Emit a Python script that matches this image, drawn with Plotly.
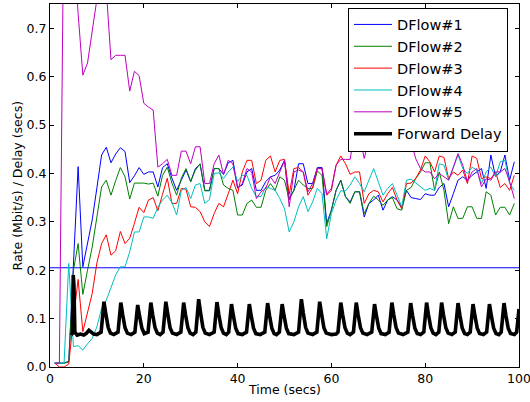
import plotly.graph_objects as go

# ---------------- data ----------------
time_s = list(range(1, 100))

dflow1 = [0.008, 0.008, 0.008, 0.012, 0.21, 0.414, 0.207, 0.255, 0.304, 0.37,
          0.438, 0.454, 0.422, 0.44, 0.453, 0.445, 0.381, 0.395, 0.412, 0.398,
          0.403, 0.403, 0.372, 0.412, 0.42, 0.39, 0.365, 0.386, 0.407, 0.383,
          0.41, 0.419, 0.365, 0.365, 0.41, 0.41, 0.398, 0.422, 0.427, 0.371,
          0.376, 0.403, 0.41, 0.365, 0.365, 0.383, 0.393, 0.396, 0.407, 0.427,
          0.348, 0.365, 0.42, 0.42, 0.379, 0.379, 0.412, 0.412, 0.297, 0.324,
          0.365, 0.386, 0.352, 0.341, 0.362, 0.362, 0.31, 0.338, 0.345, 0.355,
          0.324, 0.345, 0.352, 0.345, 0.33, 0.365, 0.35, 0.348, 0.346, 0.358,
          0.355, 0.355, 0.371, 0.379, 0.331, 0.358, 0.386, 0.393, 0.386, 0.396,
          0.403, 0.41, 0.369, 0.438, 0.393, 0.403, 0.438, 0.386, 0.424]

dflow2 = [0.008, 0.008, 0.008, 0.01, 0.2, 0.255, 0.15, 0.2, 0.248, 0.31,
          0.372, 0.386, 0.355, 0.385, 0.412, 0.393, 0.347, 0.38, 0.38, 0.38,
          0.378, 0.38, 0.353, 0.396, 0.413, 0.38, 0.355, 0.39, 0.41, 0.383,
          0.407, 0.42, 0.364, 0.364, 0.41, 0.41, 0.376, 0.369, 0.365, 0.314,
          0.314, 0.338, 0.345, 0.33, 0.33, 0.365, 0.379, 0.365, 0.393, 0.386,
          0.345, 0.365, 0.386, 0.376, 0.369, 0.369, 0.405, 0.396, 0.29, 0.324,
          0.365, 0.386, 0.352, 0.338, 0.362, 0.362, 0.317, 0.338, 0.353, 0.345,
          0.334, 0.345, 0.35, 0.327, 0.324, 0.365, 0.371, 0.39, 0.403, 0.422,
          0.422, 0.365, 0.403, 0.365, 0.296, 0.331, 0.307, 0.307, 0.331, 0.331,
          0.307, 0.307, 0.362, 0.355, 0.314, 0.33, 0.33, 0.314, 0.338]

dflow3 = [0.008, 0.0, 0.0, 0.006, 0.1, 0.181, 0.073, 0.11, 0.152, 0.215,
          0.255, 0.273, 0.231, 0.24, 0.28, 0.255, 0.266, 0.297, 0.33, 0.319,
          0.345, 0.35, 0.323, 0.357, 0.39, 0.338, 0.338, 0.369, 0.367, 0.331,
          0.33, 0.321, 0.3, 0.29, 0.317, 0.338, 0.331, 0.358, 0.386, 0.358,
          0.403, 0.427, 0.427, 0.379, 0.386, 0.427, 0.436, 0.403, 0.427, 0.429,
          0.357, 0.41, 0.412, 0.403, 0.355, 0.371, 0.41, 0.41, 0.355, 0.365,
          0.417, 0.436, 0.42, 0.398, 0.403, 0.403, 0.338, 0.358, 0.365, 0.362,
          0.341, 0.358, 0.371, 0.345, 0.327, 0.379, 0.38, 0.39, 0.407, 0.436,
          0.424, 0.403, 0.436, 0.433, 0.389, 0.403, 0.396, 0.407, 0.379, 0.436,
          0.431, 0.389, 0.393, 0.389, 0.403, 0.371, 0.379, 0.365, 0.396]

dflow4 = [0.008, 0.008, 0.008, 0.214, 0.042, 0.044, 0.035, 0.048, 0.059, 0.083,
          0.121, 0.138, 0.162, 0.19, 0.207, 0.207, 0.238, 0.279, 0.279, 0.31,
          0.31, 0.307, 0.33, 0.345, 0.355, 0.34, 0.314, 0.365, 0.371, 0.348,
          0.376, 0.379, 0.338, 0.346, 0.4, 0.401, 0.389, 0.403, 0.413, 0.383,
          0.396, 0.396, 0.369, 0.352, 0.352, 0.372, 0.369, 0.365, 0.348, 0.327,
          0.279, 0.3, 0.331, 0.352, 0.321, 0.341, 0.369, 0.358, 0.265, 0.317,
          0.345, 0.364, 0.364, 0.376, 0.393, 0.379, 0.362, 0.386, 0.41, 0.383,
          0.355, 0.369, 0.379, 0.355, 0.331, 0.386, 0.388, 0.38, 0.372, 0.365,
          0.369, 0.365, 0.42, 0.417, 0.386, 0.413, 0.438, 0.41, 0.4, 0.413,
          0.407, 0.379, 0.403, 0.413, 0.393, 0.424, 0.427, 0.379, 0.365]

dflow5 = [0.008, 0.008, 1.0, 0.95, 0.88, 0.73, 0.603, 0.628, 0.69, 0.76,
          0.8, 0.78, 0.635, 0.644, 0.644, 0.644, 0.57, 0.611, 0.602, 0.545,
          0.537, 0.531, 0.413, 0.42, 0.429, 0.396, 0.396, 0.446, 0.446, 0.42,
          0.455, 0.455, 0.379, 0.379, 0.42, 0.438, 0.398, 0.427, 0.42, 0.369,
          0.379, 0.41, 0.403, 0.348, 0.362, 0.369, 0.393, 0.379, 0.403, 0.427,
          0.331, 0.403, 0.407, 0.403, 0.362, 0.379, 0.41, 0.41, 0.357, 0.369,
          0.417, 0.429, 0.429, 0.429, 0.49, 0.48, 0.431, 0.47, 0.5, 0.48,
          0.5, 0.49, 0.47, 0.448, 0.455, 0.46, 0.465, 0.43, 0.41, 0.403,
          0.403, 0.389, 0.4, 0.393, 0.386, 0.413, 0.441, 0.417, 0.383, 0.403,
          0.41, 0.372, 0.389, 0.386, 0.403, 0.403, 0.41, 0.383, 0.348]

link_rate_t = [0, 100]
link_rate = [0.205, 0.205]

delay_points = [
    (4.5, 0.066), (4.8, 0.07), (4.95, 0.19), (5.1, 0.17), (5.3, 0.072), (5.8, 0.066),
    (6.5, 0.068), (7.2, 0.066), (7.8, 0.07), (8.3, 0.076), (8.8, 0.072), (9.3, 0.068),
    (10.0, 0.067), (10.6, 0.07),
    (10.9, 0.072), (11.25, 0.108), (11.5, 0.135), (11.9, 0.11), (12.4, 0.082), (12.9, 0.07), (13.6, 0.067),
    (14.5, 0.072), (14.85, 0.107), (15.1, 0.133), (15.5, 0.108), (16.0, 0.081), (16.5, 0.07), (17.3, 0.067),
    (18.1, 0.072), (18.45, 0.105), (18.7, 0.128), (19.1, 0.105), (19.6, 0.08), (20.1, 0.069),
    (20.9, 0.072), (21.25, 0.107), (21.5, 0.133), (21.9, 0.108), (22.4, 0.081), (22.9, 0.07), (23.5, 0.067),
    (24.1, 0.072), (24.45, 0.108), (24.7, 0.135), (25.1, 0.11), (25.6, 0.081), (26.1, 0.07), (27.0, 0.067),
    (27.9, 0.072), (28.25, 0.107), (28.5, 0.133), (28.9, 0.108), (29.4, 0.081), (29.9, 0.07), (30.5, 0.067),
    (31.1, 0.072), (31.45, 0.11), (31.7, 0.14), (32.1, 0.112), (32.6, 0.082), (33.1, 0.07), (34.0, 0.067),
    (35.0, 0.072), (35.35, 0.107), (35.6, 0.134), (36.0, 0.108), (36.5, 0.081), (37.0, 0.07), (37.6, 0.067),
    (38.1, 0.072), (38.45, 0.106), (38.7, 0.13), (39.1, 0.106), (39.6, 0.08), (40.1, 0.069), (41.0, 0.067),
    (41.9, 0.072), (42.25, 0.106), (42.5, 0.13), (42.9, 0.106), (43.4, 0.08), (43.9, 0.069), (44.8, 0.067),
    (45.8, 0.072), (46.15, 0.106), (46.4, 0.132), (46.8, 0.107), (47.3, 0.08), (47.8, 0.069), (48.3, 0.067),
    (48.9, 0.072), (49.25, 0.106), (49.5, 0.13), (49.9, 0.106), (50.4, 0.08), (50.9, 0.069), (52.0, 0.067),
    (53.0, 0.072), (53.35, 0.11), (53.6, 0.14), (54.0, 0.112), (54.5, 0.082), (55.0, 0.07), (56.0, 0.067),
    (56.9, 0.072), (57.25, 0.108), (57.5, 0.135), (57.9, 0.11), (58.4, 0.081), (58.9, 0.07), (60.0, 0.067), (61.0, 0.068),
    (61.4, 0.072), (61.75, 0.107), (62.0, 0.133), (62.4, 0.108), (62.9, 0.081), (63.4, 0.07), (64.0, 0.067),
    (64.7, 0.072), (65.05, 0.107), (65.3, 0.133), (65.7, 0.108), (66.2, 0.081), (66.7, 0.07), (67.6, 0.067),
    (68.6, 0.072), (68.95, 0.106), (69.2, 0.13), (69.6, 0.106), (70.1, 0.08), (70.6, 0.069), (71.5, 0.067),
    (72.3, 0.072), (72.65, 0.107), (72.9, 0.133), (73.3, 0.108), (73.8, 0.081), (74.3, 0.07), (75.3, 0.067),
    (76.3, 0.072), (76.65, 0.106), (76.9, 0.132), (77.3, 0.107), (77.8, 0.08), (78.3, 0.069), (79.0, 0.067),
    (79.7, 0.072), (80.05, 0.107), (80.3, 0.133), (80.7, 0.108), (81.2, 0.081), (81.7, 0.07), (82.3, 0.067),
    (82.9, 0.072), (83.25, 0.107), (83.5, 0.133), (83.9, 0.108), (84.4, 0.081), (84.9, 0.07), (85.7, 0.067),
    (86.4, 0.072), (86.75, 0.106), (87.0, 0.132), (87.4, 0.107), (87.9, 0.08), (88.4, 0.069), (89.0, 0.067),
    (89.6, 0.072), (89.95, 0.106), (90.2, 0.13), (90.6, 0.106), (91.1, 0.08), (91.6, 0.069), (92.4, 0.067),
    (93.1, 0.072), (93.45, 0.106), (93.7, 0.13), (94.1, 0.106), (94.6, 0.08), (95.1, 0.069), (95.7, 0.067),
    (96.2, 0.072), (96.55, 0.106), (96.8, 0.132), (97.2, 0.107), (97.7, 0.08), (98.2, 0.069), (99.0, 0.067),
    (99.5, 0.072), (99.8, 0.1), (100.0, 0.12),
]
delay_t = [p[0] for p in delay_points]
delay_v = [p[1] for p in delay_points]

x_ticks = [0, 20, 40, 60, 80, 100]
y_ticks = [0.0, 0.1, 0.2, 0.3, 0.4, 0.5, 0.6, 0.7]
y_tick_labels = ["0.0", "0.1", "0.2", "0.3", "0.4", "0.5", "0.6", "0.7"]

# ---------------- figure ----------------
FONT = "DejaVu Sans"
fig = go.Figure()

fig.add_trace(go.Scatter(x=link_rate_t, y=link_rate, mode="lines",
                         line=dict(color="#0000ff", width=1), showlegend=False,
                         hoverinfo="skip"))

series = [("DFlow#1", dflow1, "#0000ff"), ("DFlow#2", dflow2, "#008000"),
          ("DFlow#3", dflow3, "#ff0000"), ("DFlow#4", dflow4, "#00bfbf"),
          ("DFlow#5", dflow5, "#bf00bf")]
for name, vals, col in series:
    fig.add_trace(go.Scatter(x=time_s, y=vals, mode="lines", name=name,
                             line=dict(color=col, width=1)))

fig.add_trace(go.Scatter(x=delay_t, y=delay_v, mode="lines", name="Forward Delay",
                         line=dict(color="#000000", width=3.6)))

axis_common = dict(showline=True, linecolor="black", linewidth=1, mirror="ticks",
                   ticks="inside", ticklen=4, tickcolor="black", showgrid=False,
                   zeroline=False, automargin=False, ticklabeloverflow="allow",
                   tickfont=dict(family=FONT, size=12.5, color="black"))

fig.update_layout(
    width=530, height=402,
    margin=dict(l=50, r=11, t=4, b=35),
    paper_bgcolor="white", plot_bgcolor="white",
    font=dict(family=FONT, color="black", size=12.5),
    hovermode=False,
    xaxis=dict(range=[0, 100], tickvals=x_ticks, ticktext=[str(v) for v in x_ticks],
               **axis_common),
    yaxis=dict(range=[0, 0.75], tickvals=y_ticks, ticktext=y_tick_labels,
               **axis_common),
    legend=dict(x=(348 - 50) / 469, y=1 - (7.5 - 4) / 363, xanchor="left", yanchor="top",
                bgcolor="white", bordercolor="black", borderwidth=1,
                font=dict(family=FONT, size=14.5, color="black"),
                tracegroupgap=0, itemwidth=38),
    annotations=[
        dict(text="Time (secs)", xref="paper", yref="paper", x=0.5, y=0,
             xanchor="center", yanchor="middle", yshift=-22, showarrow=False,
             font=dict(family=FONT, size=12.5, color="black")),
        dict(text="Rate (Mbit/s) / Delay (secs)", xref="paper", yref="paper",
             x=0, y=0.5, xanchor="center", yanchor="middle", xshift=-33,
             textangle=-90, showarrow=False,
             font=dict(family=FONT, size=12.5, color="black")),
    ],
)

fig.write_html("out.html", config={"displayModeBar": False, "staticPlot": True},
               post_script="document.body.style.margin='0';document.body.style.overflow='hidden';")
